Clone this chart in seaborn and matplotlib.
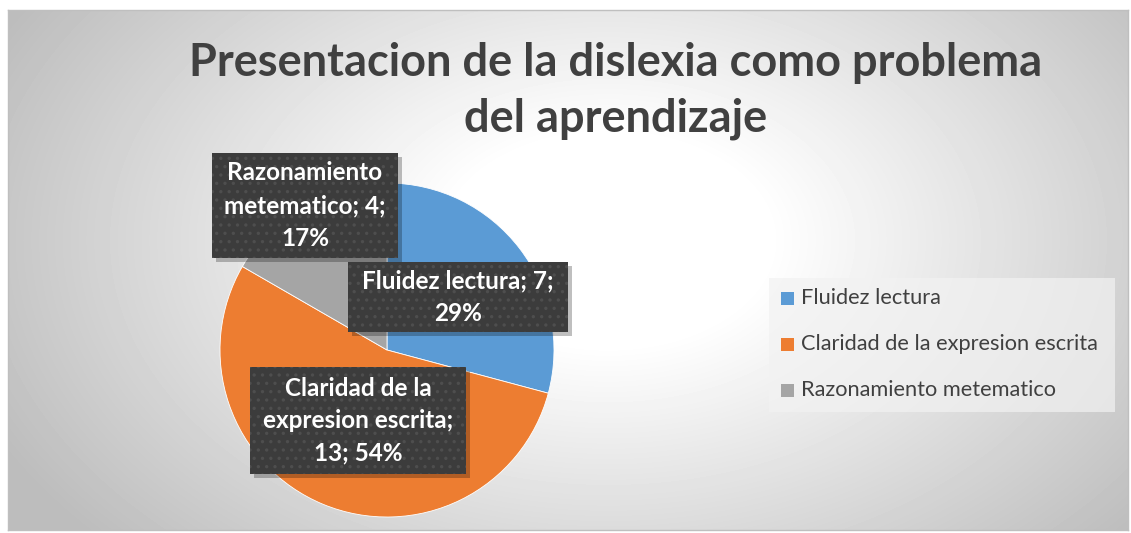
import numpy as np
import matplotlib
matplotlib.use("Agg")
import matplotlib.pyplot as plt
import seaborn as sns
from matplotlib.patches import Rectangle

sns.set_theme(style="white")
plt.rcParams['font.family'] = ['Lato', 'DejaVu Sans']
plt.rcParams['hatch.linewidth'] = 1.2

# datos
categorias = ['Fluidez lectura', 'Claridad de la expresion escrita', 'Razonamiento metematico']
valores = [7, 13, 4]
colores = ['#5B9BD5', '#ED7D31', '#A5A5A5']
porcentajes = [round(v / sum(valores) * 100) for v in valores]
etiquetas = [
    f"Fluidez lectura; {valores[0]};\n{porcentajes[0]}%",
    f"Claridad de la\nexpresion escrita;\n{valores[1]}; {porcentajes[1]}%",
    f"Razonamiento\nmetematico; {valores[2]};\n{porcentajes[2]}%",
]
titulo = "Presentacion de la dislexia como problema\ndel aprendizaje"

W, H = 1131, 533
fig = plt.figure(figsize=(W / 100, H / 100), dpi=100)
fig.patch.set_facecolor('white')

def px(x0, y0, w, h):
    # caja en pixeles (origen arriba-izquierda) -> fraccion de figura
    return [x0 / W, 1 - (y0 + h) / H, w / W, h / H]

# fondo con degradado radial
bg = fig.add_axes(px(8, 10, 1120, 520))
yy, xx = np.mgrid[0:520, 0:1120]
r = np.sqrt(((xx - 600) / 640.0) ** 2 + ((yy - 230) / 420.0) ** 2)
g = np.clip(1 - 0.27 * np.clip(r - 0.25, 0, None) / 0.85, 0.74, 1)
bg.imshow(g, cmap='gray', vmin=0, vmax=1, aspect='auto', interpolation='bilinear')
bg.set_xticks([])
bg.set_yticks([])
for s in bg.spines.values():
    s.set_color('#bfbfbf')
    s.set_linewidth(1)

# pastel
ax = fig.add_axes(px(387 - 167, 350 - 167, 334, 334))
ax.pie(valores, colors=colores, startangle=90, counterclock=False, radius=1,
       wedgeprops=dict(edgecolor='white', linewidth=0.6))
ax.set_xlim(-1, 1)
ax.set_ylim(-1, 1)
ax.set_aspect('equal')
ax.axis('off')

# etiquetas de datos (cajas oscuras punteadas)
cajas = [px(348, 262, 220, 70), px(250, 367, 216, 107), px(212, 153, 186, 105)]
for caja, txt in zip(cajas, etiquetas):
    x0, y0, w, h = caja
    fig.patches.append(Rectangle((x0 + 4 / W, y0 - 4 / H), w, h, transform=fig.transFigure,
                                 facecolor='black', alpha=0.25, edgecolor='none', zorder=5))
    fig.patches.append(Rectangle((x0, y0), w, h, transform=fig.transFigure,
                                 facecolor='#3c3c3c', edgecolor='#4e4e4e', linewidth=0,
                                 hatch='..', zorder=6))
    fig.text(x0 + w / 2, y0 + h / 2, txt, ha='center', va='center', color='white',
             fontsize=17.5, fontweight='bold', linespacing=1.5, zorder=7)

# titulo
fig.text(616 / W, 1 - 91 / H, titulo, ha='center', va='center', color='#404040',
         fontsize=32.5, fontweight='bold', linespacing=1.38)

# leyenda
fig.patches.append(Rectangle((769 / W, 1 - 412 / H), 346 / W, 134 / H, transform=fig.transFigure,
                             facecolor='#f2f2f2', alpha=0.7, edgecolor='none', zorder=3))
for i, (cat, col) in enumerate(zip(categorias, colores)):
    yc = 298 + i * 46
    fig.patches.append(Rectangle((781 / W, 1 - (yc + 7) / H), 13 / W, 13 / H,
                                 transform=fig.transFigure, facecolor=col, edgecolor='none', zorder=4))
    fig.text(801 / W, 1 - yc / H, cat, ha='left', va='center', color='#404040',
             fontsize=15.7, zorder=4)

fig.savefig('out.png', dpi=100)
